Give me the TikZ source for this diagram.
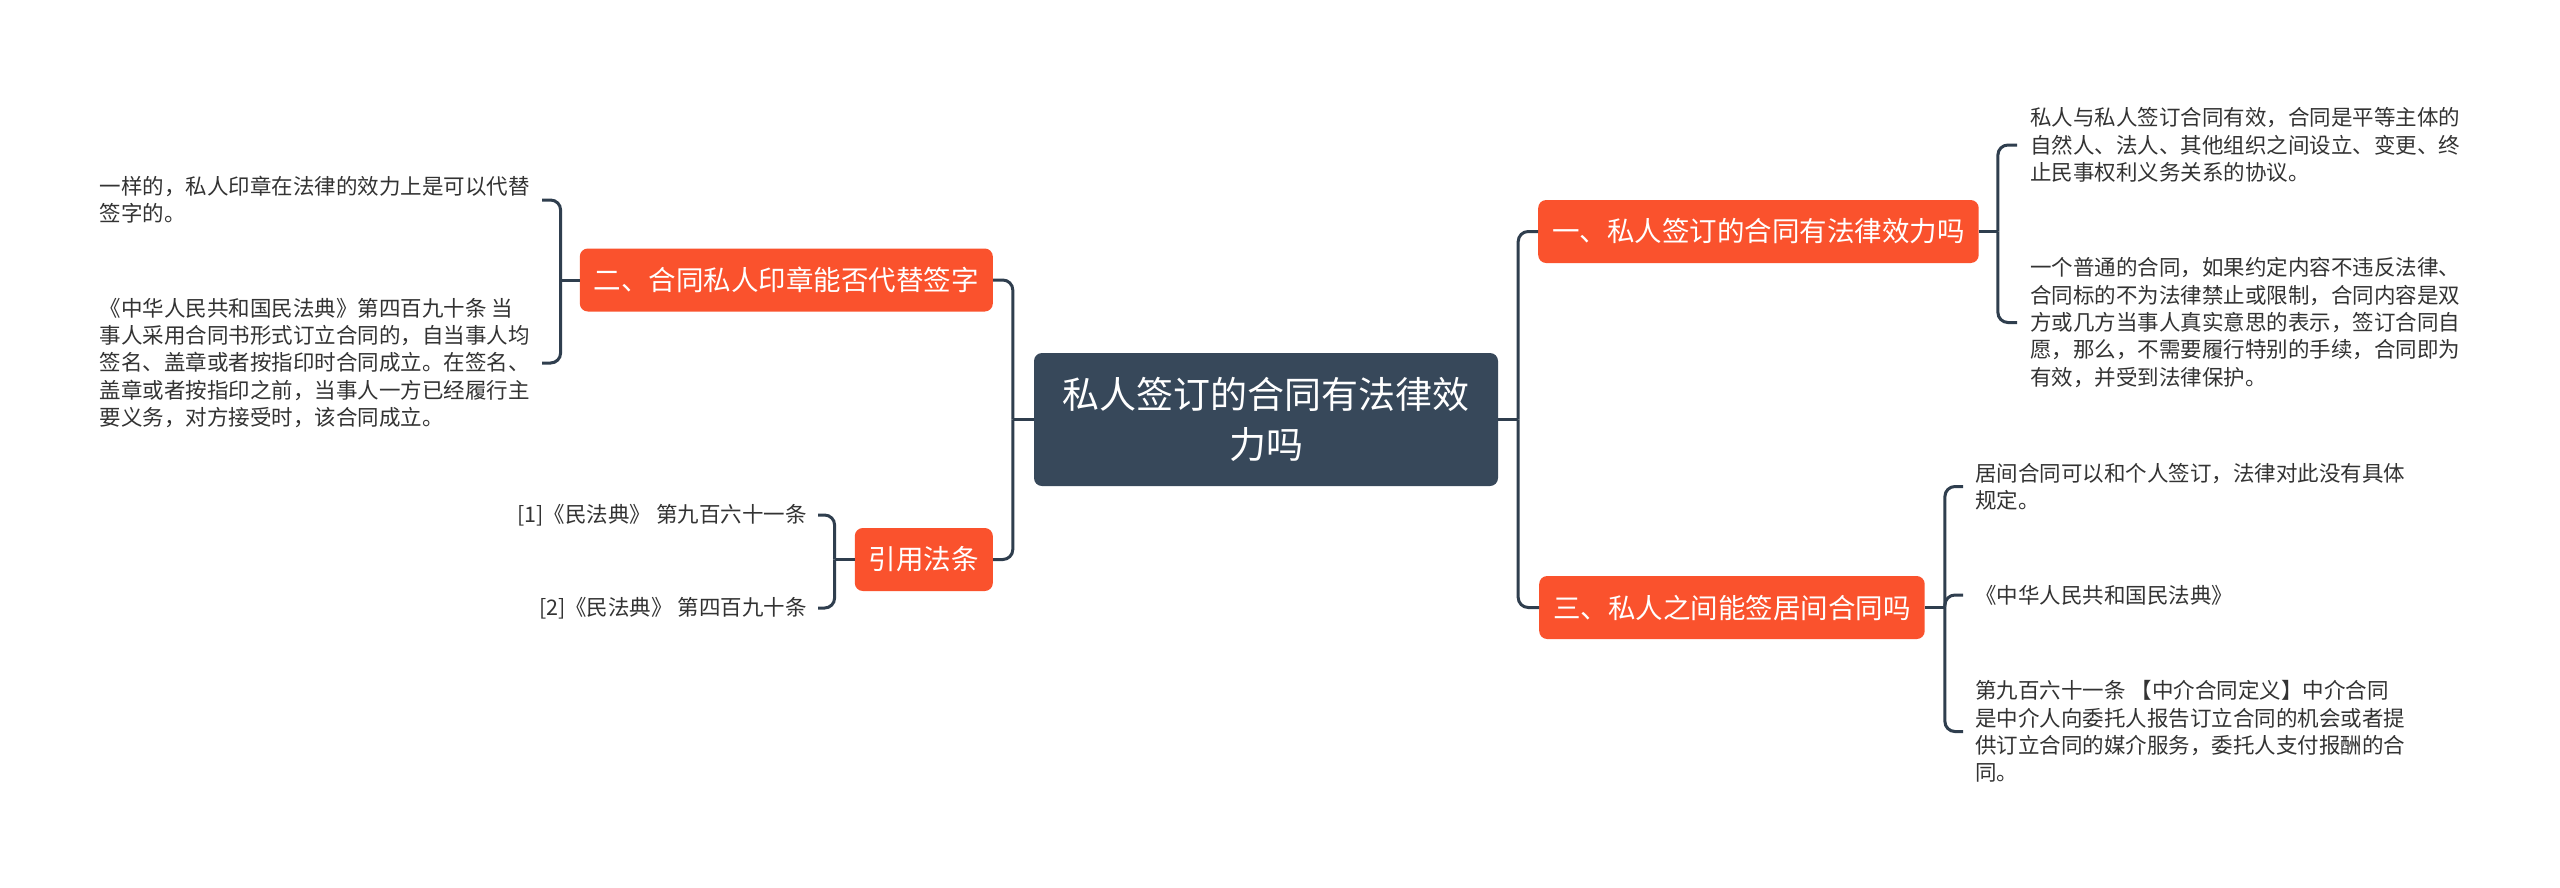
\documentclass[tikz,border=0pt]{standalone}
\usepackage{fontspec}
\setmainfont{Noto Sans CJK SC}
\usetikzlibrary{calc}
\definecolor{lineclr}{HTML}{2F3E4E}
\definecolor{orangebox}{HTML}{FA522D}
\definecolor{centerbox}{HTML}{37485A}
\definecolor{txtclr}{HTML}{333333}
\tikzset{
  rootbox/.style={fill=centerbox, text=white, rounded corners=8pt, minimum width=464pt, minimum height=133pt, align=center, inner sep=0pt, font=\fontsize{37}{50}\selectfont},
  branchbox/.style={fill=orangebox, text=white, rounded corners=8pt, minimum height=63pt, inner xsep=14pt, inner ysep=0pt, font=\fontsize{27.5}{33}\selectfont},
  leaftext/.style={text=txtclr, align=left, inner ysep=0pt, font=\fontsize{21.5}{27.3}\selectfont},
  leaftextr/.style={text=txtclr, align=right, inner ysep=0pt, font=\fontsize{21.5}{27.3}\selectfont},
  conn/.style={draw=lineclr, line width=3pt, rounded corners=10pt},
}
\begin{document}
\begin{tikzpicture}[x=1pt,y=-1pt]
\useasboundingbox[fill=white] (0,0) rectangle (2560,887);

% root
\node[rootbox] (root) at (1266,419.5) {私人签订的合同有法律效\\力吗};

% branches
\node[branchbox, anchor=west] (one) at (1538,231.5) {一、私人签订的合同有法律效力吗};
\node[branchbox, anchor=west] (three) at (1539,607.5) {三、私人之间能签居间合同吗};
\node[branchbox, anchor=east] (two) at (993,280) {二、合同私人印章能否代替签字};
\node[branchbox, anchor=east] (cite) at (993,559.5) {引用法条};

% leaves of one
\node[leaftext, anchor=west, inner xsep=13pt] (a1) at (2017,145) {私人与私人签订合同有效，合同是平等主体的\\自然人、法人、其他组织之间设立、变更、终\\止民事权利义务关系的协议。};
\node[leaftext, anchor=west, inner xsep=13pt] (a2) at (2017,322.5) {一个普通的合同，如果约定内容不违反法律、\\合同标的不为法律禁止或限制，合同内容是双\\方或几方当事人真实意思的表示，签订合同自\\愿，那么，不需要履行特别的手续，合同即为\\有效，并受到法律保护。};

% leaves of three
\node[leaftext, anchor=west, inner xsep=12pt] (c1) at (1963,486.5) {居间合同可以和个人签订，法律对此没有具体\\规定。};
\node[leaftext, anchor=west, inner xsep=12pt] (c2) at (1963,595) {《中华人民共和国民法典》};
\node[leaftext, anchor=west, inner xsep=12pt] (c3) at (1963,731.5) {第九百六十一条 【中介合同定义】中介合同\\是中介人向委托人报告订立合同的机会或者提\\供订立合同的媒介服务，委托人支付报酬的合\\同。};

% leaves of two
\node[leaftext, anchor=east, inner xsep=12pt] (b1) at (542,200) {一样的，私人印章在法律的效力上是可以代替\\签字的。};
\node[leaftext, anchor=east, inner xsep=12pt] (b2) at (542,363) {《中华人民共和国民法典》第四百九十条 当\\事人采用合同书形式订立合同的，自当事人均\\签名、盖章或者按指印时合同成立。在签名、\\盖章或者按指印之前，当事人一方已经履行主\\要义务，对方接受时，该合同成立。};

% leaves of cite
\node[leaftextr, anchor=east, inner xsep=11pt] (r1) at (818,515) {[1]《民法典》 第九百六十一条};
\node[leaftextr, anchor=east, inner xsep=11pt] (r2) at (818,608) {[2]《民法典》 第四百九十条};

% junction coordinates
\coordinate (jr) at ($(root.east)+(20,0)$);
\coordinate (jl) at ($(root.west)+(-21,0)$);
\coordinate (j1) at ($(one.east)+(19,0)$);
\coordinate (j3) at ($(three.east)+(20,-1)$);
\coordinate (j2) at ($(two.west)+(-19,0)$);
\coordinate (jc) at ($(cite.west)+(-20,0)$);

% root connectors
\draw[conn] (root.east) -- (jr);
\draw[conn] (jr) |- (one.west);
\draw[conn] (jr) |- (three.west);
\draw[conn] (root.west) -- (jl);
\draw[conn] (jl) |- (two.east);
\draw[conn] (jl) |- (cite.east);

% one
\draw[conn] (one.east) -- (j1);
\draw[conn] (j1) |- (a1.west);
\draw[conn] (j1) |- (a2.west);
% three
\draw[conn] (three.east) -- (three.east -| j3);
\draw[conn] (j3) |- (c1.west);
\draw[conn] (j3) |- (c2.west);
\draw[conn] (j3) |- (c3.west);
% two
\draw[conn] (two.west) -- (j2);
\draw[conn] (j2) |- (b1.east);
\draw[conn] (j2) |- (b2.east);
% cite
\draw[conn] (cite.west) -- (jc);
\draw[conn] (jc) |- (r1.east);
\draw[conn] (jc) |- (r2.east);
\end{tikzpicture}
\end{document}
